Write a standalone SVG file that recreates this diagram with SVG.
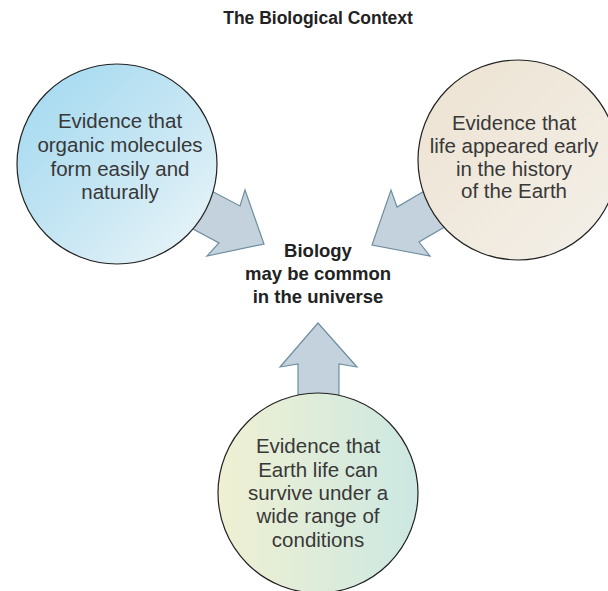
<svg xmlns="http://www.w3.org/2000/svg" width="608" height="591" viewBox="0 0 608 591">
<defs>
<linearGradient id="gBlue" x1="0" y1="0" x2="1" y2="1">
<stop offset="0" stop-color="#9fd8f0"/>
<stop offset="0.5" stop-color="#c4e5f3"/>
<stop offset="1" stop-color="#eef6f9"/>
</linearGradient>
<linearGradient id="gBeige" x1="0" y1="0" x2="1" y2="1">
<stop offset="0" stop-color="#ece2d1"/>
<stop offset="1" stop-color="#f4f0e9"/>
</linearGradient>
<linearGradient id="gGreen" x1="0" y1="0" x2="1" y2="0">
<stop offset="0" stop-color="#f0f0d2"/>
<stop offset="1" stop-color="#cce8e2"/>
</linearGradient>
<style>
.arrow{fill:#c3d2dd;stroke:#6e8ea2;stroke-width:1.2;stroke-linejoin:miter}
.circ{stroke:#222;stroke-width:1.2}
.t{font-family:"Liberation Sans",Arial,sans-serif;font-size:20.5px;fill:#383838;text-anchor:middle}
.b{font-family:"Liberation Sans",Arial,sans-serif;font-size:18.5px;font-weight:bold;fill:#222;text-anchor:middle}
.title{font-family:"Liberation Sans",Arial,sans-serif;font-size:17.5px;font-weight:bold;fill:#222;text-anchor:middle}
</style>
</defs>
<rect width="608" height="591" fill="#fff"/>
<text class="title" x="318" y="24">The Biological Context</text>
<g id="connectors">
<polygon class="arrow" points="185,177 240,206 245,190 264,244 207,256 219,243 165,214"/>
<polygon class="arrow" points="450,176 397,207 391,190 372,245 430,256 419,242 472,211"/>
<polygon class="arrow" points="318,323 357,367 339,364 339,420 298,420 298,364 280,367"/>
</g>
<g id="node-organic">
<circle class="circ" cx="117" cy="164" r="100" fill="url(#gBlue)"/>
<text class="t" x="120"><tspan x="120" y="128">Evidence that</tspan><tspan x="120" y="152">organic molecules</tspan><tspan x="120" y="176">form easily and</tspan><tspan x="120" y="199">naturally</tspan></text>
</g>
<g id="node-early">
<circle class="circ" cx="518" cy="160" r="100" fill="url(#gBeige)"/>
<text class="t" x="514"><tspan x="514" y="130">Evidence that</tspan><tspan x="514" y="153">life appeared early</tspan><tspan x="514" y="176">in the history</tspan><tspan x="514" y="198">of the Earth</tspan></text>
</g>
<g id="node-conditions">
<circle class="circ" cx="318" cy="493" r="100" fill="url(#gGreen)"/>
<text class="t" x="318"><tspan x="318" y="453">Evidence that</tspan><tspan x="318" y="477">Earth life can</tspan><tspan x="318" y="500">survive under a</tspan><tspan x="318" y="523">wide range of</tspan><tspan x="318" y="547">conditions</tspan></text>
</g>
<g id="node-biology">
<text class="b" x="318"><tspan x="318" y="257">Biology</tspan><tspan x="318" y="280">may be common</tspan><tspan x="318" y="303">in the universe</tspan></text>
</g>
</svg>
